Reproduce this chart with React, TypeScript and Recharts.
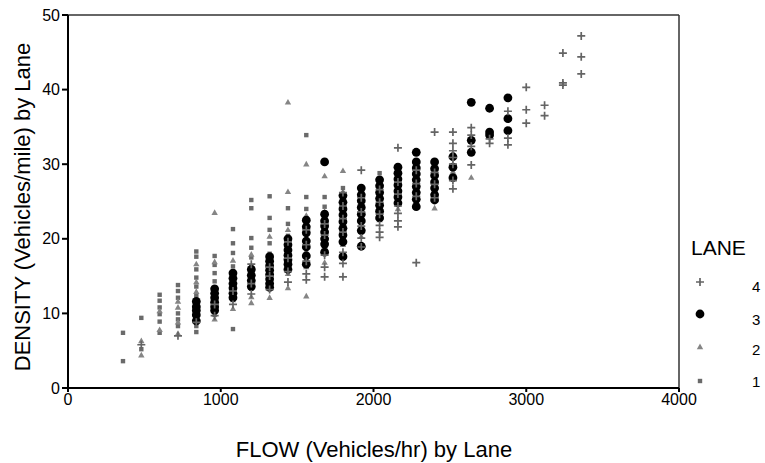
import { ScatterChart, Scatter, XAxis, YAxis, ReferenceLine } from 'recharts';

// flow columns (vehicles/hr) — every lane reports at the same flow steps
const flows = [
  360, 480, 600, 720, 840, 960, 1080, 1200, 1320, 1440, 1560, 1680, 1800,
  1920, 2040, 2160, 2280, 2400, 2520, 2640, 2760, 2880, 3000, 3120, 3240, 3360,
];

// densities per flow column, one list per lane
const lane1: number[][] = [
  [7.4, 3.6],
  [9.4, 5.2],
  [12.5, 11.7, 10.8, 9.9, 8.9, 7.4],
  [13.8, 13.0, 12.1, 10.0, 9.2, 8.3],
  [18.3, 17.6, 15.9, 14.8, 13.6, 12.4, 11.2, 10.1, 8.3, 7.5],
  [17.7, 16.5, 15.4, 14.3, 13.1, 11.6, 10.6, 9.8],
  [21.3, 19.4, 18.1, 16.3, 15.1, 14.2, 12.8, 7.9],
  [25.2, 24.1, 20.1, 18.8, 17.5, 16.2, 14.7, 13.3],
  [25.7, 22.8, 21.2, 19.4, 18.0],
  [24.1, 22.0, 20.4, 16.1],
  [33.9, 25.6, 24.0, 22.4],
  [25.6, 24.3],
  [26.8],
  [],
  [28.8],
  [], [], [], [], [], [], [], [], [], [], [],
];

const lane2: number[][] = [
  [],
  [6.3, 4.4],
  [7.8, 10.3],
  [11.6, 10.8, 8.8, 7.3],
  [16.6, 14.2, 12.9, 9.3],
  [23.5, 16.9, 12.5, 9.2],
  [17.1, 13.5, 11.8, 10.6],
  [17.9, 15.6, 13.8, 12.2, 11.4],
  [20.3, 17.1, 14.2, 12.1],
  [38.3, 26.3, 21.2, 18.7, 15.3, 13.4],
  [30.0, 23.1, 20.7, 18.3, 16.2, 12.3],
  [28.4, 23.6, 21.4, 19.0, 16.8],
  [29.1, 25.9, 23.7, 21.5, 19.2],
  [26.3, 24.4, 22.1, 20.3],
  [27.5, 25.0, 22.5],
  [28.0, 25.3, 24.0],
  [26.8, 25.0],
  [26.7, 24.1],
  [29.0],
  [28.2],
  [], [], [], [], [], [],
];

const lane3: number[][] = [
  [], [], [], [],
  [11.6, 10.9, 10.4, 9.8, 9.0],
  [13.3, 12.7, 12.1, 11.5, 10.9, 10.4],
  [15.4, 14.7, 14.0, 13.4, 12.7, 12.1],
  [15.9, 15.1, 14.4, 13.6],
  [17.6, 17.0, 16.4, 15.8, 15.2, 14.6, 14.0, 13.5],
  [20.0, 19.2, 18.5, 17.8, 17.2, 16.6, 15.9],
  [22.5, 21.6, 20.8, 19.7, 18.9, 17.7, 16.6],
  [30.3, 23.3, 22.4, 21.7, 20.9, 20.0, 19.3, 18.2],
  [25.8, 24.9, 24.0, 23.2, 22.3, 21.4, 20.5, 19.6, 17.6],
  [26.8, 25.9, 25.1, 24.2, 23.3, 22.4, 21.1, 19.0],
  [27.9, 27.1, 26.2, 25.4, 24.5, 23.7, 22.8],
  [29.6, 28.8, 28.0, 27.2, 26.4, 25.6, 24.8],
  [31.6, 30.3, 29.5, 28.7, 27.9, 27.0, 26.2, 25.3, 24.3],
  [30.3, 29.4, 28.5, 27.6, 26.8, 25.9, 25.2],
  [31.0, 29.6, 28.2],
  [38.3, 33.2, 31.6],
  [37.5, 34.3, 33.9],
  [38.9, 36.1, 34.5],
  [], [], [], [],
];

const lane4: number[][] = [
  [],
  [5.8],
  [],
  [7.0],
  [8.8],
  [11.2, 9.7],
  [13.0, 11.2],
  [16.6, 14.0, 12.6],
  [16.2, 15.0, 13.2],
  [19.6, 17.4, 15.6, 14.2],
  [21.2, 19.2, 17.0, 15.3, 14.5],
  [22.0, 20.5, 17.8, 16.2, 14.9],
  [26.2, 24.4, 22.7, 20.9, 18.2, 16.7, 14.9],
  [29.2, 25.5, 23.6, 21.7, 20.1, 18.9],
  [26.6, 24.9, 23.3, 21.8, 20.9, 20.2],
  [32.2, 27.6, 26.0, 24.4, 23.4, 22.4, 21.6],
  [29.2, 27.4, 25.7, 16.8],
  [34.3, 28.9, 27.3, 25.5],
  [34.3, 32.8, 31.8, 30.9, 30.0, 27.8, 26.7],
  [34.9, 33.9, 32.4, 29.9],
  [32.8, 33.4],
  [37.1, 33.5, 32.6],
  [40.3, 37.3, 35.5],
  [37.9, 36.5],
  [44.9, 40.9, 40.6],
  [47.2, 44.4, 42.1],
];

const xTicks = [0, 1000, 2000, 3000, 4000];
const yTicks = [0, 10, 20, 30, 40, 50];

const toPoints = (lane: number[][]) =>
  flows.flatMap((flow, i) => lane[i].map((density) => ({ flow, density })));

const FONT = '"Liberation Sans", Arial, sans-serif';

const SquareDot = ({ cx, cy }: any) => (
  <rect x={cx - 2.2} y={cy - 2.2} width={4.4} height={4.4} fill="#6a6a6a" />
);
const TriangleDot = ({ cx, cy }: any) => (
  <path d={`M${cx},${cy - 3.4}L${cx + 3.2},${cy + 2.2}L${cx - 3.2},${cy + 2.2}Z`} fill="#858585" />
);
const CircleDot = ({ cx, cy }: any) => <circle cx={cx} cy={cy} r={4.4} fill="#000" />;
const PlusDot = ({ cx, cy }: any) => (
  <path
    d={`M${cx - 4},${cy}H${cx + 4}M${cx},${cy - 4}V${cy + 4}`}
    stroke="#646464"
    strokeWidth={1.7}
  />
);

export default function App() {
  return (
    <div style={{ position: 'absolute', left: 0, top: 0, width: 765, height: 463, background: '#fff' }}>
      <ScatterChart width={765} height={463} margin={{ top: 15, right: 86, bottom: 45, left: 0 }}>
        <XAxis
          type="number"
          dataKey="flow"
          domain={[0, 4000]}
          ticks={xTicks}
          height={30}
          tickSize={4}
          stroke="#000"
          strokeWidth={2}
          tick={{ fontSize: 16, fill: '#000', fontFamily: FONT }}
        />
        <YAxis
          type="number"
          dataKey="density"
          domain={[0, 50]}
          ticks={yTicks}
          width={68}
          tickSize={6}
          stroke="#000"
          strokeWidth={2}
          tick={{ fontSize: 16, fill: '#000', fontFamily: FONT }}
        />
        <ReferenceLine y={50} stroke="#333" strokeWidth={1.5} />
        <ReferenceLine x={4000} stroke="#333" strokeWidth={1.5} />
        <Scatter data={toPoints(lane1)} shape={SquareDot} isAnimationActive={false} />
        <Scatter data={toPoints(lane2)} shape={TriangleDot} isAnimationActive={false} />
        <Scatter data={toPoints(lane3)} shape={CircleDot} isAnimationActive={false} />
        <Scatter data={toPoints(lane4)} shape={PlusDot} isAnimationActive={false} />
      </ScatterChart>
      <svg
        width={765}
        height={463}
        style={{ position: 'absolute', left: 0, top: 0, pointerEvents: 'none' }}
        fontFamily={FONT}
      >
        <text x={374} y={457} fontSize={22} textAnchor="middle" fill="#000">
          FLOW (Vehicles/hr) by Lane
        </text>
        <text
          x={30}
          y={207}
          fontSize={22}
          textAnchor="middle"
          fill="#000"
          transform="rotate(-90, 30, 207)"
        >
          DENSITY (Vehicles/mile) by Lane
        </text>
        <text x={691} y={255} fontSize={21} fill="#000">
          LANE
        </text>
        <PlusDot cx={700} cy={282} />
        <CircleDot cx={700} cy={314} />
        <TriangleDot cx={700} cy={347} />
        <SquareDot cx={700} cy={381} />
        <text x={752} y={292} fontSize={15} fill="#000">4</text>
        <text x={752} y={325} fontSize={15} fill="#000">3</text>
        <text x={752} y={355} fontSize={15} fill="#000">2</text>
        <text x={752} y={387} fontSize={15} fill="#000">1</text>
      </svg>
    </div>
  );
}
